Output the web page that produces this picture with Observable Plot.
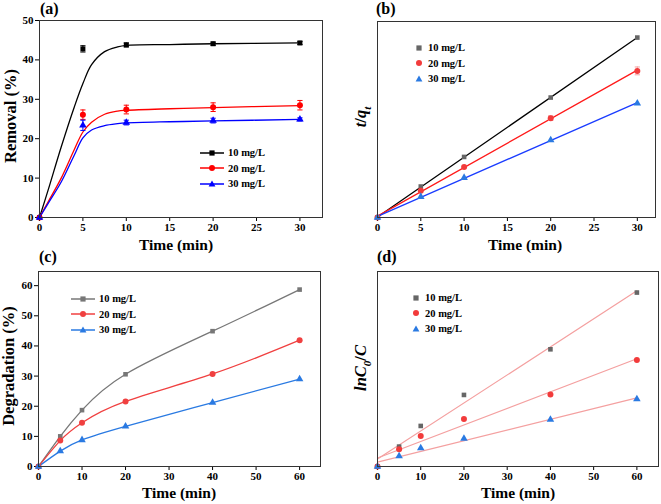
<!DOCTYPE html>
<html><head><meta charset="utf-8">
<script src="https://cdn.jsdelivr.net/npm/d3@7"></script>
<script src="https://cdn.jsdelivr.net/npm/@observablehq/plot@0.6"></script>
<style>
body{margin:0;background:#fff;}
#root{position:relative;width:661px;height:504px;font-family:"Liberation Serif","DejaVu Serif","Liberation Sans",Arial,sans-serif;font-weight:bold;color:#000;overflow:hidden;}
.pane{position:absolute;}
.lab{position:absolute;white-space:nowrap;font-weight:bold;}
.tag{font-size:16px;}
.xt{font-size:15.5px;transform:translate(-50%,-50%);}
.yt{font-size:16.5px;transform:translate(-50%,-50%) rotate(-90deg);}
.leg{position:absolute;font-size:10.5px;font-weight:bold;}
.leg div{height:15.5px;display:flex;align-items:center;}
.leg svg{margin-right:4px;}
</style></head>
<body><div id="root"></div>
<script>
// ---------- data ----------
const concLabels = ["10 mg/L", "20 mg/L", "30 mg/L"];

// (a) removal vs time
const timeA = [0, 5, 10, 20, 30];
const removal10 = [0, 42.8, 43.8, 44.1, 44.3];
const removal20 = [0, 26.1, 27.4, 28.0, 28.5];
const removal30 = [0, 23.4, 24.1, 24.6, 24.9];
const removalErr10 = [0, 0.8, 0.5, 0.4, 0.4];
const removalErr20 = [0, 1.2, 1.1, 1.1, 1.2];
const removalErr30 = [0, 1.3, 0.6, 0.6, 0.4];
const fitTimeA = [0, 1, 2.5, 4, 5, 6, 7.5, 9, 10, 15, 20, 30];
const fitRemoval10 = [0, 7, 17.9, 28, 34, 38.8, 42.1, 43.3, 43.7, 43.9, 44.1, 44.3];
const fitRemoval20 = [0, 4.0, 10.0, 17.2, 21.7, 24.2, 26.2, 27.0, 27.2, 27.6, 27.9, 28.4];
const fitRemoval30 = [0, 3.6, 9.0, 15.8, 20.2, 22.2, 23.3, 23.8, 24.0, 24.3, 24.5, 24.9];

// (b) t/qt vs time (relative units)
const timeB = [0, 5, 10, 20, 30];
const tq10 = [0, 0.158, 0.309, 0.612, 0.918];
const tq20 = [0, 0.136, 0.258, 0.507, 0.748];
const tq30 = [0, 0.106, 0.203, 0.395, 0.583];
const tqErr20 = [0, 0, 0, 0.012, 0.02];

// (c) degradation vs time
const timeC = [0, 5, 10, 20, 40, 60];
const degr10 = [0, 10.0, 18.7, 30.6, 44.9, 58.7];
const degr20 = [0, 8.6, 14.5, 21.6, 30.7, 41.9];
const degr30 = [0, 5.1, 8.8, 13.3, 21.2, 29.0];

// (d) ln(C0/C) vs time (relative units)
const timeD = [0, 5, 10, 20, 40, 60];
const lnc10 = [0, 0.102, 0.208, 0.367, 0.601, 0.892];
const lnc20 = [0, 0.089, 0.157, 0.244, 0.369, 0.546];
const lnc30 = [0, 0.053, 0.094, 0.143, 0.241, 0.346];

const ticksA = [0, 5, 10, 15, 20, 25, 30];
const ticksAy = [0, 10, 20, 30, 40, 50];
const ticksC = [0, 10, 20, 30, 40, 50, 60];
const ticksCy = [0, 10, 20, 30, 40, 50, 60];

// ---------- helpers ----------
const rows = (xs, ys, es) => xs.map((x, i) => ({x, y: ys[i], e: es ? es[i] : 0}));
const root = document.getElementById("root");
const baseStyle = {fontFamily: "'Liberation Serif', 'DejaVu Serif', 'Liberation Sans', Arial, sans-serif", fontSize: "11px", fontWeight: "bold", background: "transparent", color: "#000", overflow: "visible"};

function place(el, left, top) {
  const d = document.createElement("div");
  d.className = "pane"; d.style.left = left + "px"; d.style.top = top + "px";
  d.appendChild(el); root.appendChild(d);
}
function label(html, cls, x, y) {
  const d = document.createElement("div");
  d.className = "lab " + cls; d.innerHTML = html;
  d.style.left = x + "px"; d.style.top = y + "px";
  root.appendChild(d);
}
function sym(shape, color, line) {
  const w = line ? 24 : 10;
  const c = w / 2;
  let s = `<svg width="${w}" height="10" viewBox="0 0 ${w} 10">`;
  if (line) s += `<line x1="0" x2="${w}" y1="5" y2="5" stroke="${line}" stroke-width="1.5"/>`;
  if (shape === "square") s += `<rect x="${c-2.6}" y="2.4" width="5.2" height="5.2" fill="${color}"/>`;
  if (shape === "circle") s += `<circle cx="${c}" cy="5" r="3" fill="${color}"/>`;
  if (shape === "triangle") s += `<path d="M${c},1.6L${c+3.4},7.6L${c-3.4},7.6Z" fill="${color}"/>`;
  return s + "</svg>";
}
function legend(x, y, items) {
  const d = document.createElement("div");
  d.className = "leg"; d.style.left = x + "px"; d.style.top = y + "px";
  d.innerHTML = items.map(it => `<div>${sym(it.shape, it.color, it.line)}<span>${it.text}</span></div>`).join("");
  root.appendChild(d);
}
function errMarks(data, color) {
  const d = data.filter(r => r.e > 0);
  return [
    Plot.ruleX(d, {x: "x", y1: r => r.y - r.e, y2: r => r.y + r.e, stroke: color, strokeWidth: 1}),
    Plot.link(d, {x1: r => r.x - 0.3, x2: r => r.x + 0.3, y1: r => r.y + r.e, y2: r => r.y + r.e, stroke: color}),
    Plot.link(d, {x1: r => r.x - 0.3, x2: r => r.x + 0.3, y1: r => r.y - r.e, y2: r => r.y - r.e, stroke: color})
  ];
}

// ---------- (a) ----------
{
  const d10 = rows(timeA, removal10, removalErr10), d20 = rows(timeA, removal20, removalErr20), d30 = rows(timeA, removal30, removalErr30);
  const f10 = rows(fitTimeA, fitRemoval10), f20 = rows(fitTimeA, fitRemoval20), f30 = rows(fitTimeA, fitRemoval30);
  const p = Plot.plot({
    width: 330, height: 252, marginLeft: 39, marginRight: 8, marginTop: 20, marginBottom: 35,
    style: baseStyle,
    x: {domain: [0, 32.6], ticks: ticksA, tickSize: 4, tickPadding: 2, label: null},
    y: {domain: [0, 50], ticks: ticksAy, tickSize: 4, tickPadding: 2, label: null},
    marks: [
      Plot.line(f10, {x: "x", y: "y", stroke: "#000", strokeWidth: 1.3, curve: "catmull-rom"}),
      Plot.line(f20, {x: "x", y: "y", stroke: "#ff0000", strokeWidth: 1.3, curve: "catmull-rom"}),
      Plot.line(f30, {x: "x", y: "y", stroke: "#0000ff", strokeWidth: 1.3, curve: "catmull-rom"}),
      ...errMarks(d10, "#000"), ...errMarks(d20, "#ff0000"), ...errMarks(d30, "#0000ff"),
      Plot.dot(d10, {x: "x", y: "y", symbol: "square", r: 2.8, fill: "#000"}),
      Plot.dot(d20, {x: "x", y: "y", symbol: "circle", r: 3, fill: "#ff0000"}),
      Plot.dot(d30, {x: "x", y: "y", symbol: "triangle", r: 2.8, fill: "#0000ff"}),
      Plot.frame({stroke: "#333"})
    ]
  });
  place(p, 0, 0);
  label("(a)", "tag", 40, 0);
  label("Time (min)", "xt", 176, 245);
  label("Removal (%)", "yt", 11, 116);
  legend(200, 145, [
    {shape: "square", color: "#000", line: "#000", text: concLabels[0]},
    {shape: "circle", color: "#ff0000", line: "#ff0000", text: concLabels[1]},
    {shape: "triangle", color: "#0000ff", line: "#0000ff", text: concLabels[2]}
  ]);
}

// ---------- (b) ----------
{
  const d10 = rows(timeB, tq10), d20 = rows(timeB, tq20, tqErr20), d30 = rows(timeB, tq30);
  const p = Plot.plot({
    width: 331, height: 252, marginLeft: 47, marginRight: 6, marginTop: 21, marginBottom: 35,
    style: baseStyle,
    x: {domain: [0, 32.1], ticks: ticksA, tickSize: 4, tickPadding: 2, label: null},
    y: {domain: [0, 1], axis: null},
    marks: [
      Plot.linearRegressionY(d10, {x: "x", y: "y", stroke: "#000", strokeWidth: 1.3, ci: 0}),
      Plot.linearRegressionY(d20, {x: "x", y: "y", stroke: "#ff1a1a", strokeWidth: 1.3, ci: 0}),
      Plot.linearRegressionY(d30, {x: "x", y: "y", stroke: "#1a3cff", strokeWidth: 1.3, ci: 0}),
      ...errMarks(d20, "#f4a0a0"),
      Plot.dot(d10, {x: "x", y: "y", symbol: "square", r: 2.6, fill: "#666"}),
      Plot.dot(d20, {x: "x", y: "y", symbol: "circle", r: 3, fill: "#f23b3b"}),
      Plot.dot(d30, {x: "x", y: "y", symbol: "triangle", r: 2.8, fill: "#2a7ae2"}),
      Plot.frame({stroke: "#333"})
    ]
  });
  place(p, 330, 0);
  label("(b)", "tag", 376, 0);
  label("Time (min)", "xt", 525, 245);
  label("<i>t</i>/<i>q</i><sub style='font-size:11px'><i>t</i></sub>", "yt", 362, 117);
  legend(414, 40, [
    {shape: "square", color: "#666", text: concLabels[0]},
    {shape: "circle", color: "#f23b3b", text: concLabels[1]},
    {shape: "triangle", color: "#2a7ae2", text: concLabels[2]}
  ]);
}

// ---------- (c) ----------
{
  const d10 = rows(timeC, degr10), d20 = rows(timeC, degr20), d30 = rows(timeC, degr30);
  const p = Plot.plot({
    width: 330, height: 252, marginLeft: 38, marginRight: 10, marginTop: 19, marginBottom: 38,
    style: baseStyle,
    x: {domain: [0, 64.8], ticks: ticksC, tickSize: 4, tickPadding: 2, label: null},
    y: {domain: [0, 64.7], ticks: ticksCy, tickSize: 4, tickPadding: 2, label: null},
    marks: [
      Plot.line(d10, {x: "x", y: "y", stroke: "#777", strokeWidth: 1.3, curve: "natural"}),
      Plot.line(d20, {x: "x", y: "y", stroke: "#f04040", strokeWidth: 1.3, curve: "natural"}),
      Plot.line(d30, {x: "x", y: "y", stroke: "#2a7ae2", strokeWidth: 1.3, curve: "natural"}),
      Plot.dot(d10, {x: "x", y: "y", symbol: "square", r: 2.6, fill: "#777"}),
      Plot.dot(d20, {x: "x", y: "y", symbol: "circle", r: 3, fill: "#f04040"}),
      Plot.dot(d30, {x: "x", y: "y", symbol: "triangle", r: 2.8, fill: "#2a7ae2"}),
      Plot.frame({stroke: "#333"})
    ]
  });
  place(p, 0, 252);
  label("(c)", "tag", 39, 248);
  label("Time (min)", "xt", 179, 493);
  label("Degradation (%)", "yt", 9, 366);
  legend(71, 291, [
    {shape: "square", color: "#777", line: "#777", text: concLabels[0]},
    {shape: "circle", color: "#f04040", line: "#f04040", text: concLabels[1]},
    {shape: "triangle", color: "#2a7ae2", line: "#2a7ae2", text: concLabels[2]}
  ]);
}

// ---------- (d) ----------
{
  const d10 = rows(timeD, lnc10), d20 = rows(timeD, lnc20), d30 = rows(timeD, lnc30);
  const fit = "#f4a0a0";
  const p = Plot.plot({
    width: 331, height: 252, marginLeft: 47, marginRight: 3, marginTop: 19, marginBottom: 38,
    style: baseStyle,
    x: {domain: [0, 65], ticks: ticksC, tickSize: 4, tickPadding: 2, label: null},
    y: {domain: [0, 1], axis: null},
    marks: [
      Plot.linearRegressionY(d10, {x: "x", y: "y", stroke: fit, strokeWidth: 1.2, ci: 0}),
      Plot.linearRegressionY(d20, {x: "x", y: "y", stroke: fit, strokeWidth: 1.2, ci: 0}),
      Plot.linearRegressionY(d30, {x: "x", y: "y", stroke: fit, strokeWidth: 1.2, ci: 0}),
      Plot.dot(d10, {x: "x", y: "y", symbol: "square", r: 2.6, fill: "#666"}),
      Plot.dot(d20, {x: "x", y: "y", symbol: "circle", r: 3, fill: "#f23b3b"}),
      Plot.dot(d30, {x: "x", y: "y", symbol: "triangle", r: 2.8, fill: "#2a7ae2"}),
      Plot.frame({stroke: "#333"})
    ]
  });
  place(p, 330, 252);
  label("(d)", "tag", 377, 248);
  label("Time (min)", "xt", 518, 493);
  label("<i>ln</i><i>C</i><sub style='font-size:11px'><i>0</i></sub>/<i>C</i>", "yt", 362, 368);
  legend(411, 290, [
    {shape: "square", color: "#666", text: concLabels[0]},
    {shape: "circle", color: "#f23b3b", text: concLabels[1]},
    {shape: "triangle", color: "#2a7ae2", text: concLabels[2]}
  ]);
}
</script></body></html>
